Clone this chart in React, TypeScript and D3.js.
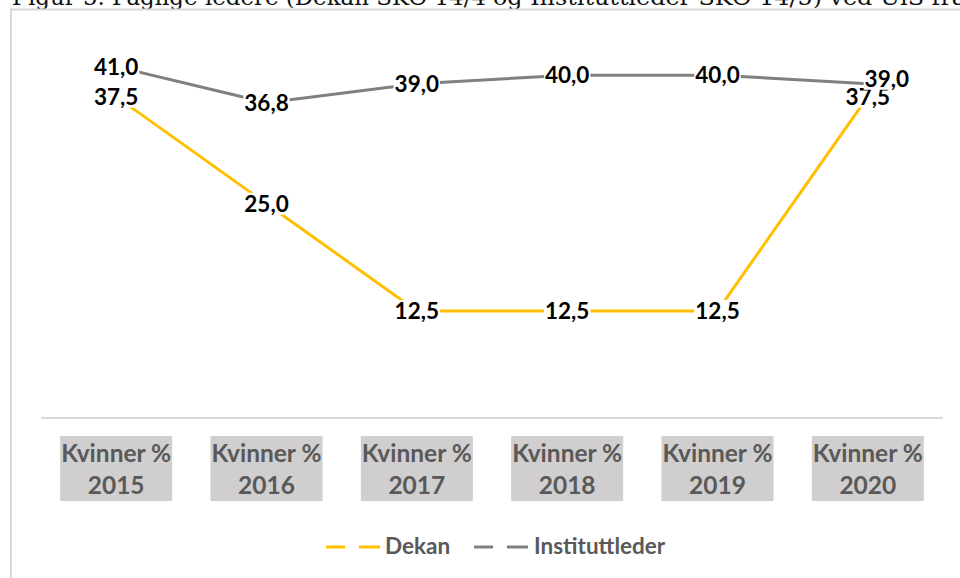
import React, { useEffect, useRef } from 'react';
import * as d3 from 'd3';

const categories = ['2015', '2016', '2017', '2018', '2019', '2020'];
const categoryPrefix = 'Kvinner %';
const dekan = [37.5, 25.0, 12.5, 12.5, 12.5, 37.5];
const instituttleder = [41.0, 36.8, 39.0, 40.0, 40.0, 39.0];
const seriesNames = ['Dekan', 'Instituttleder'];
const seriesColors = ['#FFC000', '#808080'];
const titleParts = ['Figur 5. Faglige ledere (Dekan SKO 14/4', 'og Instituttleder SKO 14/5) ved UiS fra'];

const fmt = (v: number) => v.toFixed(1).replace('.', ',');

export default function App() {
  const ref = useRef<SVGSVGElement>(null);
  useEffect(() => {
    const svg = d3.select(ref.current as SVGSVGElement);
    svg.selectAll('*').remove();
    const labelFont = 'Lato, "Open Sans", sans-serif';

    // title (cropped at top)
    const tf = '"DejaVu Serif", Georgia, serif';
    svg.append('text').attr('x', 12).attr('y', 4.5).attr('font-family', tf).attr('font-size', 23)
      .attr('fill', '#111').attr('textLength', 474).attr('lengthAdjust', 'spacingAndGlyphs').text(titleParts[0]);
    svg.append('text').attr('x', 493).attr('y', 4.5).attr('font-family', tf).attr('font-size', 23)
      .attr('fill', '#111').attr('textLength', 473).attr('lengthAdjust', 'spacingAndGlyphs').text(titleParts[1]);

    // frame
    svg.append('rect').attr('x', 11).attr('y', 9.5).attr('width', 1000).attr('height', 620)
      .attr('fill', 'none').attr('stroke', '#d9d9d9').attr('stroke-width', 2);

    const x = d3.scaleBand<string>().domain(categories).range([41, 943]);
    const y = d3.scaleLinear().domain([0, 45]).range([418, 418 - 8.57 * 45]);
    const cx = (c: string) => (x(c) as number) + x.bandwidth() / 2;

    // axis line
    svg.append('line').attr('x1', 41).attr('x2', 943).attr('y1', 418).attr('y2', 418)
      .attr('stroke', '#d9d9d9').attr('stroke-width', 2);

    // category labels
    const cat = svg.append('g');
    categories.forEach((c) => {
      const g = cat.append('g');
      g.append('rect').attr('x', cx(c) - 56).attr('y', 436).attr('width', 112).attr('height', 65).attr('fill', '#d0cece');
      g.append('text').attr('x', cx(c)).attr('y', 462).attr('text-anchor', 'middle').attr('font-family', labelFont)
        .attr('font-weight', 700).attr('font-size', 24.5).attr('fill', '#595959').text(categoryPrefix);
      g.append('text').attr('x', cx(c)).attr('y', 494).attr('text-anchor', 'middle').attr('font-family', labelFont)
        .attr('font-weight', 700).attr('font-size', 24.5).attr('fill', '#595959').text(c);
    });

    const series = [dekan, instituttleder];
    const line = d3.line<number>().x((_, i) => cx(categories[i])).y((d) => y(d));
    series.forEach((s, si) => {
      svg.append('path').attr('d', line(s) as string).attr('fill', 'none')
        .attr('stroke', seriesColors[si]).attr('stroke-width', 3);
    });

    // label nudges (Excel manually moved label)
    const nudge: Record<string, [number, number]> = { '1-5': [19, -5] };
    const labels = svg.append('g');
    series.forEach((s, si) => {
      s.forEach((v, i) => {
        const [dx, dy] = nudge[`${si}-${i}`] || [0, 0];
        const px = cx(categories[i]) + dx;
        const py = y(v) + dy;
        const g = labels.append('g');
        const rect = g.append('rect').attr('fill', '#fff');
        const t = g.append('text').attr('x', px).attr('y', py + 8).attr('text-anchor', 'middle')
          .attr('font-family', labelFont).attr('font-weight', 700).attr('font-size', 22.5).attr('fill', '#000')
          .text(fmt(v));
        const bb = (t.node() as SVGTextElement).getBBox();
        rect.attr('x', bb.x - 1).attr('y', py - 11).attr('width', bb.width + 2).attr('height', 22);
      });
    });

    // legend
    const legendStarts = [326, 474];
    const legendTextX = [385, 534];
    seriesNames.forEach((n, i) => {
      const s = legendStarts[i];
      svg.append('line').attr('x1', s).attr('x2', s + 19).attr('y1', 547).attr('y2', 547)
        .attr('stroke', seriesColors[i]).attr('stroke-width', 3);
      svg.append('line').attr('x1', s + 33).attr('x2', s + 54).attr('y1', 547).attr('y2', 547)
        .attr('stroke', seriesColors[i]).attr('stroke-width', 3);
      svg.append('text').attr('x', legendTextX[i]).attr('y', 554).attr('font-family', labelFont)
        .attr('font-weight', 700).attr('font-size', 22.5).attr('fill', '#595959').text(n);
    });
  }, []);
  return (
    <svg ref={ref} width={960} height={578}
      style={{ position: 'absolute', left: 0, top: 0, background: '#fff', display: 'block' }} />
  );
}
